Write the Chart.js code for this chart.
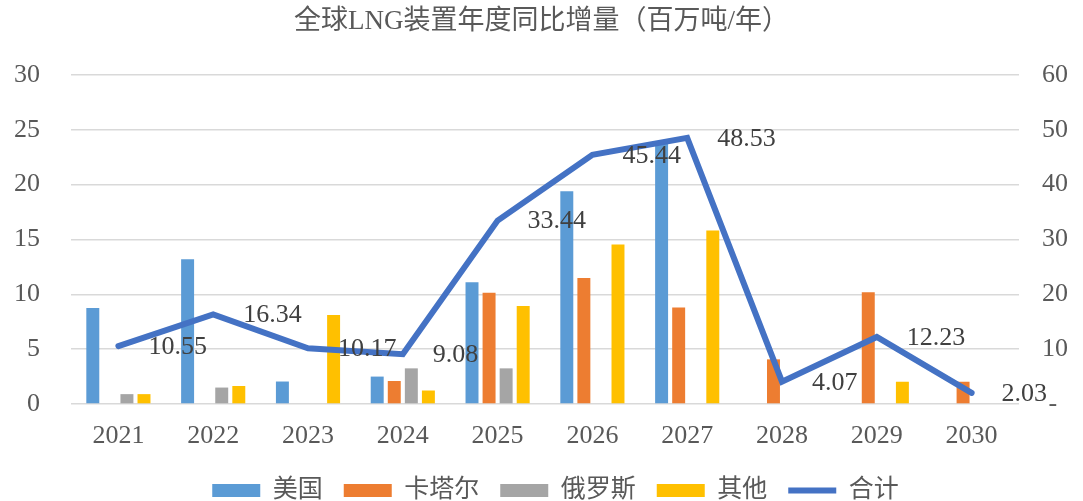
<!DOCTYPE html>
<html>
<head>
<meta charset="utf-8">
<script src="https://cdn.jsdelivr.net/npm/chart.js@4/dist/chart.umd.min.js"></script>
<style>
  html, body { margin: 0; padding: 0; background: #fff; }
  #wrap { width: 1083px; height: 501px; }
</style>
</head>
<body>
<div id="wrap"><canvas id="lngChart" width="1083" height="501"></canvas></div>
<script>
// data (百万吨/年)
var years = ['2021', '2022', '2023', '2024', '2025', '2026', '2027', '2028', '2029', '2030'];
var usa    = [8.75, 13.2, 2.05, 2.5, 11.1, 19.4, 23.9, 0, 0, 0];
var qatar  = [0, 0, 0, 2.1, 10.15, 11.5, 8.8, 4.07, 10.2, 2.03];
var russia = [0.9, 1.5, 0, 3.25, 3.25, 0, 0, 0, 0, 0];
var others = [0.9, 1.64, 8.12, 1.23, 8.94, 14.54, 15.83, 0, 2.03, 0];
var totals = [10.55, 16.34, 10.17, 9.08, 33.44, 45.44, 48.53, 4.07, 12.23, 2.03];
var leftTicks  = [0, 5, 10, 15, 20, 25, 30];
var rightTicks = [0, 10, 20, 30, 40, 50, 60];

var serif = "'Liberation Serif', 'Noto Sans CJK SC', serif";
var grey = '#595959';

// labels of the 合计 line, put to the right of each point
var lineLabels = {
  id: 'lineLabels',
  afterDatasetsDraw: function(chart) {
    var meta = chart.getDatasetMeta(4);
    var ctx = chart.ctx;
    ctx.save();
    ctx.font = '26px ' + serif;
    ctx.fillStyle = '#404040';
    ctx.textAlign = 'left';
    ctx.textBaseline = 'middle';
    meta.data.forEach(function(pt, i) {
      ctx.fillText(totals[i].toFixed(2), pt.x + 30, pt.y + 1);
    });
    ctx.restore();
  }
};

// legend sits a bit lower (half cut by the bottom edge) and a bit to the right
var moveLegend = {
  id: 'moveLegend',
  afterLayout: function(chart) {
    chart.legend.top += 12;
    chart.legend.bottom += 12;
    chart.legend.left += 14;
    chart.legend.right += 14;
  }
};

var ctx = document.getElementById('lngChart').getContext('2d');
var lngChart = new Chart(ctx, {
  type: 'bar',
  data: {
    labels: years,
    datasets: [
      { label: '美国', data: usa, backgroundColor: '#5B9BD5', yAxisID: 'y', order: 1, pointStyle: 'rect' },
      { label: '卡塔尔', data: qatar, backgroundColor: '#ED7D31', yAxisID: 'y', order: 1, pointStyle: 'rect' },
      { label: '俄罗斯', data: russia, backgroundColor: '#A5A5A5', yAxisID: 'y', order: 1, pointStyle: 'rect' },
      { label: '其他', data: others, backgroundColor: '#FFC000', yAxisID: 'y', order: 1, pointStyle: 'rect' },
      {
        type: 'line', label: '合计', data: totals, yAxisID: 'y1', order: 0,
        borderColor: '#4472C4', backgroundColor: '#4472C4', borderWidth: 6,
        borderCapStyle: 'round', borderJoinStyle: 'miter',
        pointRadius: 0, pointHoverRadius: 0, pointStyle: 'line', tension: 0
      }
    ]
  },
  options: {
    responsive: false,
    animation: false,
    layout: { padding: 0 },
    datasets: {
      bar: { categoryPercentage: 0.72, barPercentage: 0.76, borderWidth: 0 }
    },
    plugins: {
      tooltip: { enabled: false },
      title: {
        display: true,
        text: '全球LNG装置年度同比增量（百万吨/年）',
        color: grey,
        font: { family: serif, size: 27, weight: 'normal' },
        padding: { top: 6, bottom: 36.6 }
      },
      legend: {
        position: 'bottom',
        labels: {
          usePointStyle: true,
          pointStyleWidth: 48,
          boxHeight: 13,
          padding: 21,
          color: grey,
          font: { family: serif, size: 25 },
          sort: function(a, b) { return a.datasetIndex - b.datasetIndex; }
        }
      }
    },
    scales: {
      x: {
        grid: { display: false, drawTicks: false },
        border: { display: false },
        ticks: { color: grey, padding: 17, font: { family: serif, size: 26 } },
        afterFit: function(scale) { scale.height = 41; }
      },
      y: {
        position: 'left',
        min: leftTicks[0],
        max: leftTicks[leftTicks.length - 1],
        afterBuildTicks: function(scale) {
          scale.ticks = leftTicks.map(function(v) { return { value: v }; });
        },
        grid: { color: '#D9D9D9', lineWidth: 1.4, drawTicks: false },
        border: { display: false },
        ticks: { color: grey, padding: 31, font: { family: serif, size: 26 } },
        afterFit: function(scale) { scale.width = 71; }
      },
      y1: {
        position: 'right',
        min: rightTicks[0],
        max: rightTicks[rightTicks.length - 1],
        afterBuildTicks: function(scale) {
          scale.ticks = rightTicks.map(function(v) { return { value: v }; });
        },
        grid: { display: false, drawTicks: false },
        border: { display: false },
        ticks: {
          color: grey, padding: 23, font: { family: serif, size: 26 },
          callback: function(v) { return v === 0 ? ' -' : v; }
        },
        afterFit: function(scale) { scale.width = 64; }
      }
    }
  },
  plugins: [lineLabels, moveLegend]
});
</script>
</body>
</html>
